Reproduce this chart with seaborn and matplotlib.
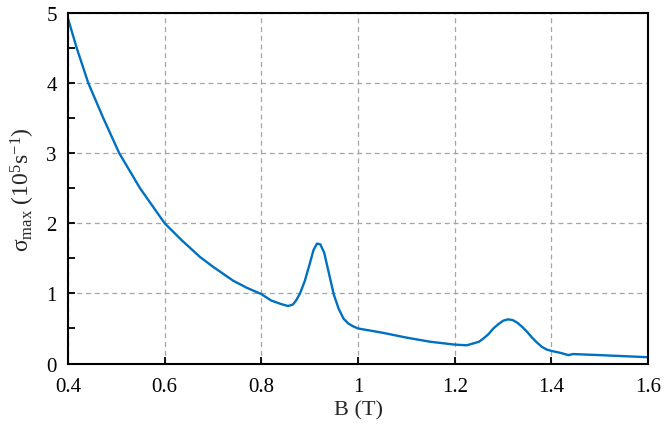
import numpy as np
import pandas as pd
import matplotlib
matplotlib.use("Agg")
import matplotlib.pyplot as plt
import seaborn as sns

B = [0.400, 0.418, 0.442, 0.473, 0.506, 0.549, 0.600, 0.635, 0.673, 0.700,
     0.742, 0.770, 0.800, 0.820, 0.840, 0.855, 0.865, 0.872, 0.880, 0.890,
     0.900, 0.908, 0.915, 0.922, 0.930, 0.940, 0.950, 0.960, 0.970, 0.980,
     0.990, 1.000, 1.050, 1.100, 1.150, 1.200, 1.225, 1.250, 1.260, 1.270,
     1.280, 1.290, 1.300, 1.310, 1.320, 1.330, 1.340, 1.350, 1.360, 1.370,
     1.380, 1.390, 1.400, 1.420, 1.435, 1.445, 1.500, 1.550, 1.600]
sigma = [4.92, 4.50, 4.00, 3.50, 3.00, 2.50, 2.00, 1.76, 1.52, 1.38,
         1.18, 1.08, 0.99, 0.90, 0.85, 0.82, 0.84, 0.90, 1.00, 1.18,
         1.42, 1.62, 1.71, 1.70, 1.58, 1.28, 0.98, 0.78, 0.64, 0.57,
         0.53, 0.50, 0.44, 0.37, 0.31, 0.27, 0.26, 0.31, 0.36, 0.42,
         0.50, 0.56, 0.61, 0.63, 0.62, 0.58, 0.52, 0.45, 0.37, 0.30,
         0.24, 0.20, 0.18, 0.15, 0.12, 0.135, 0.12, 0.105, 0.09]

df = pd.DataFrame({"B": B, "sigma": sigma})

sns.set_style("ticks")
plt.rcParams["font.family"] = ["Liberation Serif", "DejaVu Serif"]
plt.rcParams["mathtext.fontset"] = "custom"
plt.rcParams["mathtext.rm"] = "Liberation Serif"
plt.rcParams["mathtext.it"] = "Liberation Serif:italic"

fig = plt.figure(figsize=(6.64, 4.35), dpi=100)
ax = fig.add_axes([0.1024, 0.162, 0.8736, 0.806])

sns.lineplot(data=df, x="B", y="sigma", ax=ax, color="#0070C0", linewidth=1.7)

ax.set_xlim(0.4, 1.6)
ax.set_ylim(0, 5)
ax.set_xticks(np.arange(0.4, 1.61, 0.2))
ax.set_xticklabels(["0.4", "0.6", "0.8", "1", "1.2", "1.4", "1.6"])
ax.set_yticks(np.arange(0, 5.1, 1))
ax.set_yticks(np.arange(0.5, 5, 1), minor=True)
ax.grid(True, which="major", color="#A6A6A6", linestyle=(0, (4, 3)), linewidth=0.9)
ax.tick_params(which="both", direction="in", length=5, width=1.3, labelsize=15, colors="black")
ax.tick_params(axis="x", pad=10)
ax.tick_params(axis="y", pad=8)
for s in ax.spines.values():
    s.set_linewidth(1.5)
    s.set_color("black")

ax.set_xlabel("B (T)", fontsize=16, labelpad=3)
ax.set_ylabel(r"σ$_{\rm max}$ (10$^5$s$^{-1}$)", fontsize=17, labelpad=7)

fig.savefig("out.png", dpi=100)
